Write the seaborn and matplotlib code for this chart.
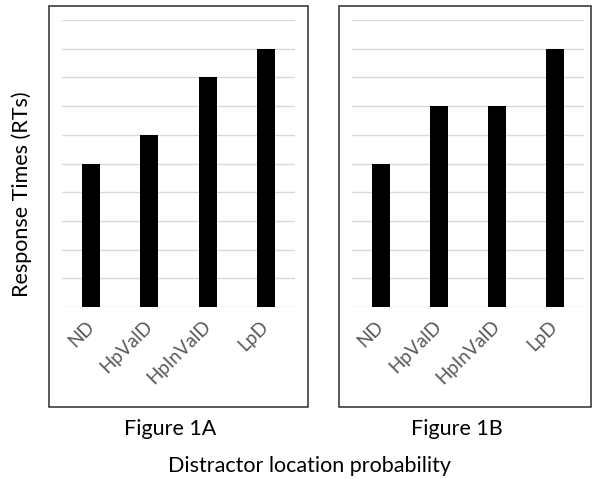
import matplotlib
matplotlib.use("Agg")
import matplotlib.pyplot as plt
import seaborn as sns
import pandas as pd
from matplotlib.patches import Rectangle

categories = ["ND", "HpValD", "HpInValD", "LpD"]
values_1a = [5, 6, 8, 9]
values_1b = [5, 7, 7, 9]
panel_titles = ["Figure 1A", "Figure 1B"]
y_label = "Response Times (RTs)"
x_label = "Distractor location probability"

sns.set_theme(style="white")
plt.rcParams["font.family"] = ["Lato", "DejaVu Sans"]

W, H = 592, 479
fig = plt.figure(figsize=(W / 100, H / 100), dpi=100)

def fx(px):
    return px / W

def fy(py):
    return 1 - py / H

# panel boxes (in pixels: x0, y0, x1, y1)
boxes = [(49, 6, 308, 407), (339, 6, 590.5, 407)]
for (x0, y0, x1, y1) in boxes:
    fig.patches.append(Rectangle((fx(x0), fy(y1)), fx(x1 - x0), (y1 - y0) / H,
                                 transform=fig.transFigure, fill=False,
                                 edgecolor="#2b2b2b", linewidth=1.1, zorder=0))

axes_px = [(62, 20, 295, 307), (352, 20, 584, 307)]
for (x0, y0, x1, y1), vals, title, tx in zip(axes_px, [values_1a, values_1b], panel_titles,
                                             [170, 457]):
    ax = fig.add_axes([fx(x0), fy(y1), fx(x1 - x0), (y1 - y0) / H])
    df = pd.DataFrame({"cat": categories, "val": vals})
    sns.barplot(data=df, x="cat", y="val", ax=ax, color="black", width=0.31,
                saturation=1, edgecolor="black", linewidth=0)
    ax.set_ylim(0, 10)
    ax.set_xlim(-0.5, 3.5)
    ax.set_yticks(range(0, 11))
    ax.set_yticklabels([])
    ax.yaxis.grid(True, color="#d9d9d9", linewidth=1.0)
    ax.set_axisbelow(True)
    for s in ax.spines.values():
        s.set_visible(False)
    ax.tick_params(axis="both", length=0)
    ax.tick_params(axis="x", pad=12)
    ax.set_xlabel("")
    ax.set_ylabel("")
    for lab in ax.get_xticklabels():
        lab.set_rotation(45)
        lab.set_ha("right")
        lab.set_va("center")
        lab.set_rotation_mode("anchor")
        lab.set_color("#595959")
        lab.set_fontsize(13.5)
    fig.text(fx(tx), fy(429), title, ha="center", va="center", fontsize=15.5, color="black")

fig.text(fx(22), fy(194), y_label, ha="center", va="center", rotation=90,
         fontsize=15.5, color="black")
fig.text(fx(310), fy(466), x_label, ha="center", va="center", fontsize=15.5, color="black")

fig.savefig("out.png", dpi=100, facecolor="white")
